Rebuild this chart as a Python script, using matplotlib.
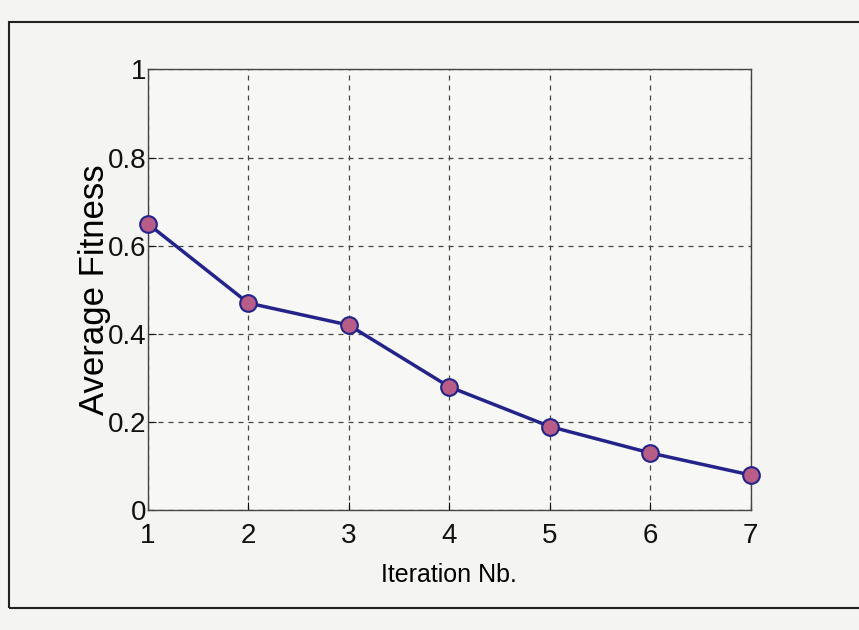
import matplotlib.pyplot as plt
from matplotlib.patches import Rectangle

# data
iterations = [1, 2, 3, 4, 5, 6, 7]
avg_fitness = [0.65, 0.47, 0.42, 0.28, 0.19, 0.13, 0.08]
y_ticks = [0, 0.2, 0.4, 0.6, 0.8, 1]
y_tick_labels = ['0', '0.2', '0.4', '0.6', '0.8', '1']

plt.rcParams['font.family'] = ['Liberation Sans', 'DejaVu Sans']

fig = plt.figure(figsize=(8.59, 6.30), dpi=100, facecolor='#f4f4f2')
ax = fig.add_axes([0.172, 0.19, 0.702, 0.70])
ax.set_facecolor('#f7f7f5')

# outer frame of the printed figure
fig.patches.append(Rectangle((0.01, 0.035), 1.2, 0.93, transform=fig.transFigure,
                             fill=False, edgecolor='#222222', linewidth=1.5))

ax.plot(iterations, avg_fitness, color='#23238a', linewidth=2.5, marker='o',
        markersize=12, markerfacecolor='#b85c88', markeredgecolor='#23238a',
        markeredgewidth=1.5, clip_on=False, zorder=3)

ax.set_xlim(1, 7)
ax.set_ylim(0, 1)
ax.set_xticks(iterations)
ax.set_yticks(y_ticks)
ax.set_yticklabels(y_tick_labels)
ax.grid(True, linestyle=(0, (4, 4)), color='#444444', linewidth=0.9)
ax.tick_params(direction='in', length=6, labelsize=20, colors='#111111')
ax.tick_params(axis='y', pad=1)
ax.tick_params(axis='x', pad=9)
for s in ax.spines.values():
    s.set_color('#444444')
    s.set_linewidth(1.0)

ax.set_xlabel('Iteration Nb.', fontsize=18, labelpad=10)
ax.set_ylabel('Average Fitness', fontsize=25, labelpad=-2)

fig.savefig('out.png', dpi=100, facecolor=fig.get_facecolor())
